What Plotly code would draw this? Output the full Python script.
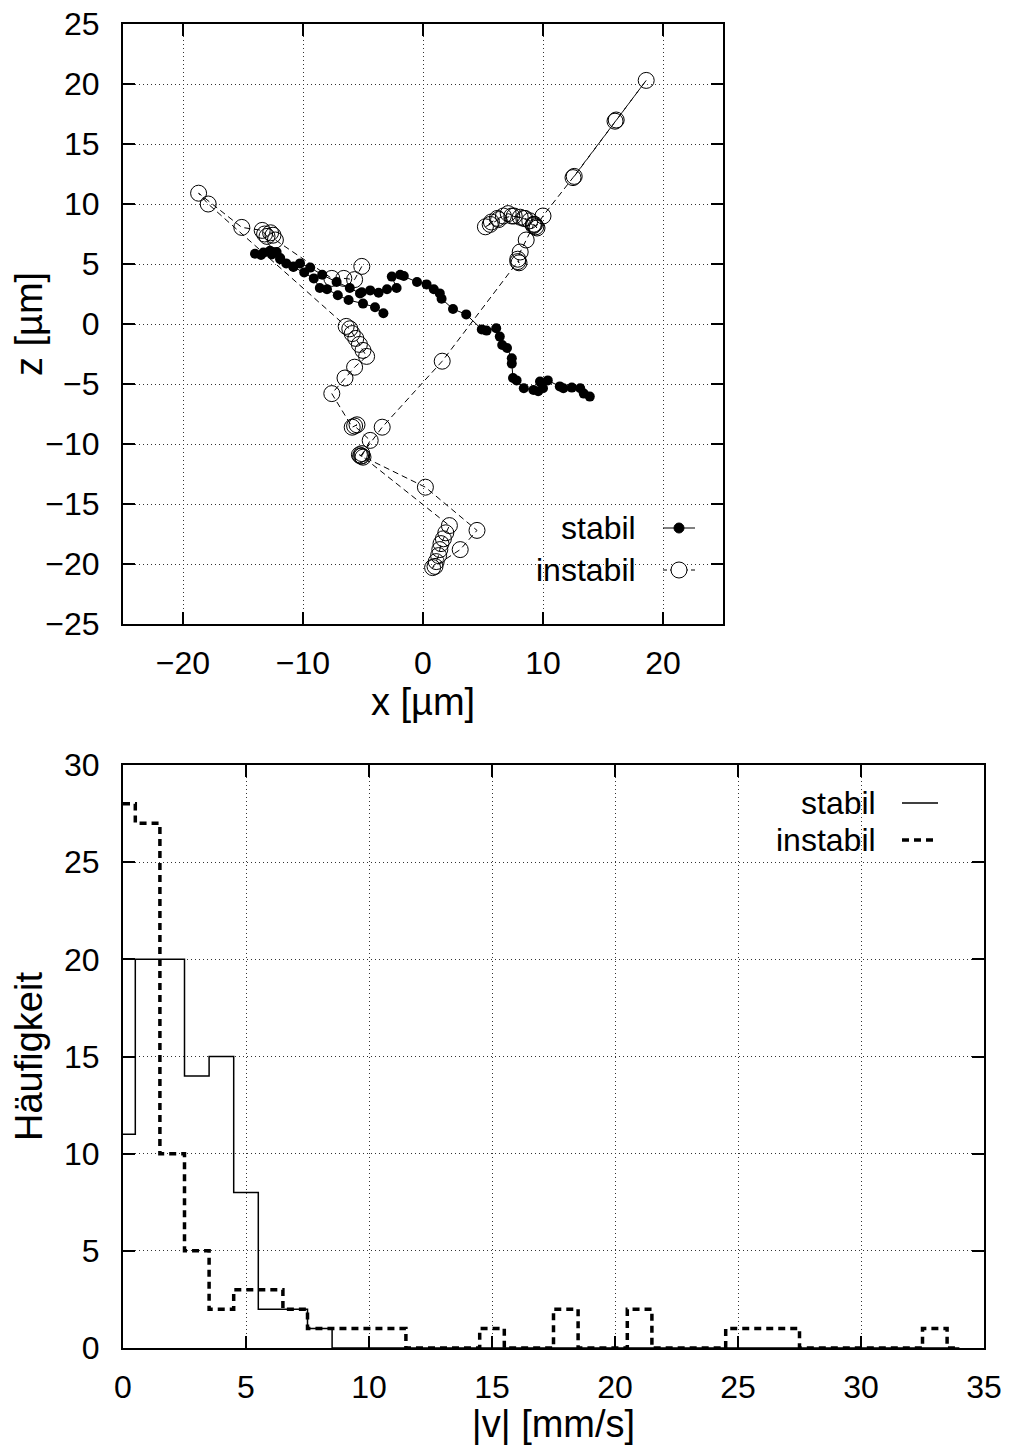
import plotly.graph_objects as go

# Trajektorie "stabil" (x, z in µm)
stabil_x = [13.9, 13.4, 13.1, 12.4, 11.7, 11.4, 10.4, 10.0, 9.75, 9.6, 9.2, 8.4, 7.8, 7.5, 7.4, 7.4,
            7.0, 6.6, 6.4, 6.1, 5.3, 4.9, 3.6, 2.5, 1.55, 1.4, 0.9, 0.3, -0.5, -1.6, -1.9, -2.6,
            -2.2, -3.0, -3.7, -4.4, -5.1, -5.25, -6.1, -7.2, -8.4, -9.4, -10.25, -10.8, -11.4, -11.9,
            -12.2, -12.75, -13.3, -14.0, -13.5, -12.6, -11.9, -10.8, -9.9, -9.1, -8.6, -8.0, -7.1,
            -6.2, -5.0, -4.0, -3.3]
stabil_z = [-6.05, -5.8, -5.35, -5.3, -5.35, -5.2, -4.7, -5.35, -4.8, -5.6, -5.5, -5.35, -4.7, -4.5,
            -3.3, -2.85, -2.0, -1.75, -1.05, -0.35, -0.55, -0.45, 0.8, 1.25, 2.1, 2.55, 2.9, 3.3,
            3.5, 4.0, 4.1, 3.95, 3.0, 2.9, 2.6, 2.8, 2.65, 2.55, 3.0, 3.5, 4.1, 4.7, 5.05, 4.8,
            5.05, 5.5, 6.0, 6.1, 5.95, 5.85, 5.75, 5.8, 5.4, 4.75, 4.3, 3.8, 3.0, 2.9, 2.4, 2.0,
            1.7, 1.4, 0.9]

# Trajektorie "instabil"
instabil_x = [12.6, 16.1, 18.6, 16.0, 12.5, 10.0, 9.4, 9.3, 9.5, 9.2, 8.9, 8.5, 8.1, 7.6, 7.1, 6.7,
              6.2, 5.7, 5.2, 5.6, 6.3, 7.4, 8.4, 9.2, 8.6, 8.1, 7.9, 8.0, 7.9, 1.6, -3.4, -5.1,
              -5.2, -5.0, -5.3, 0.2, 4.5, 3.1, 1.0, 0.8, 1.1, 1.3, 1.4, 1.5, 1.7, 1.9, 2.2, -5.1,
              -4.4, -5.7, -5.5, -5.9, -7.6, -6.5, -5.7, -4.7, -5.0, -5.3, -5.6, -5.9, -6.1, -6.4,
              -17.9, -18.7, -15.1, -13.4, -13.2, -13.0, -12.7, -12.5, -12.3, -7.6, -6.6, -5.7, -5.1]
instabil_z = [12.3, 17.0, 20.3, 16.9, 12.2, 9.0, 8.1, 8.3, 8.0, 8.3, 8.6, 8.8, 8.9, 9.0, 9.2, 9.0,
              8.8, 8.5, 8.1, 8.3, 8.7, 9.0, 8.8, 8.2, 7.0, 6.0, 5.4, 5.1, 5.2, -3.1, -8.6, -10.8,
              -11.0, -11.1, -10.9, -13.6, -17.2, -18.8, -20.2, -20.3, -19.8, -19.3, -18.8, -18.3,
              -17.9, -17.4, -16.8, -11.0, -9.7, -8.5, -8.4, -8.6, -5.8, -4.5, -3.6, -2.7, -2.2,
              -1.7, -1.2, -0.8, -0.4, -0.2, 10.0, 10.9, 8.05, 7.8, 7.5, 7.3, 7.6, 7.4, 7.0, 3.8,
              3.8, 3.7, 4.8]

# Histogramm der Geschwindigkeiten |v| [mm/s]
v_bins = list(range(0, 35))
h_stabil = [11, 20, 20, 14, 15, 8, 2, 2, 1] + [0] * 26
h_instabil = [28, 27, 10, 5, 2, 3, 3, 2, 1, 1, 1, 1, 0, 0, 0, 1, 0, 0, 2, 0, 0, 2, 0, 0, 0,
              1, 1, 1, 0, 0, 0, 0, 0, 1, 0]

# Seite hat 8px Rand, daher Figur etwas kleiner
OFF = 8
W, H = 1013 - OFF, 1445 - OFF
FONT = "Liberation Sans, Arial, sans-serif"
FS = 32


def px(x):
    return (x - OFF) / W


def py(y):
    return 1 - (y - OFF) / H


fig = go.Figure()

fig.add_trace(go.Scatter(x=stabil_x, y=stabil_z, mode="lines+markers",
                         line=dict(color="black", width=1),
                         marker=dict(symbol="circle", size=10, color="black"),
                         xaxis="x", yaxis="y", showlegend=False))
fig.add_trace(go.Scatter(x=instabil_x, y=instabil_z, mode="lines+markers",
                         line=dict(color="black", width=1, dash="6px,4px"),
                         marker=dict(symbol="circle-open", size=16, color="black",
                                     line=dict(width=1)),
                         xaxis="x", yaxis="y", showlegend=False))

fig.add_trace(go.Scatter(x=v_bins, y=h_stabil, mode="lines", line_shape="hvh",
                         line=dict(color="black", width=1.5),
                         xaxis="x2", yaxis="y2", showlegend=False))
fig.add_trace(go.Scatter(x=v_bins, y=h_instabil, mode="lines", line_shape="hvh",
                         line=dict(color="black", width=3.5, dash="7px,5px"),
                         xaxis="x2", yaxis="y2", showlegend=False))

axis_common = dict(showline=True, linecolor="black", linewidth=2, mirror="allticks",
                   ticks="inside", ticklen=12, tickwidth=2, tickcolor="black",
                   showgrid=True, gridcolor="#333333", gridwidth=1, griddash="1px,3px",
                   zeroline=False, automargin=False, ticklabeloverflow="allow",
                   tickfont=dict(family=FONT, size=FS, color="black"))

fig.update_layout(
    width=W, height=H,
    margin=dict(l=0, r=0, t=0, b=0),
    paper_bgcolor="white", plot_bgcolor="white",
    font=dict(family=FONT, size=FS, color="black"),
    xaxis=dict(axis_common, domain=[px(123), px(723)], range=[-25, 25], dtick=10,
               anchor="y", ticklabelstandoff=10, title=dict(text="x [µm]", standoff=6)),
    yaxis=dict(axis_common, domain=[py(624), py(24)], range=[-25, 25], dtick=5,
               anchor="x", ticklabelstandoff=15, title=dict(text="z [µm]", standoff=10)),
    xaxis2=dict(axis_common, domain=[px(123), px(984)], range=[0, 35], dtick=5,
                anchor="y2", ticklabelstandoff=10, title=dict(text="|v| [mm/s]", standoff=6)),
    yaxis2=dict(axis_common, domain=[py(1348), py(765)], range=[0, 30], dtick=5,
                anchor="x2", ticklabelstandoff=15, title=dict(text="Häufigkeit", standoff=10)),
)

# Legenden im gnuplot-Stil (Text links, Symbol rechts)
legend_rows = [
    ("stabil", 638, 528, 663, 695, "solid", 1, "filled"),
    ("instabil", 638, 570, 663, 695, "4px,3px", 1, "open"),
    ("stabil", 878, 803, 902, 938, "solid", 1.5, None),
    ("instabil", 878, 840, 902, 938, "7px,5px", 3.5, None),
]
for text, tx, ty, lx0, lx1, dash, lw, mk in legend_rows:
    fig.add_annotation(x=px(tx), y=py(ty), xref="paper", yref="paper", text=text,
                       showarrow=False, xanchor="right", yanchor="middle",
                       font=dict(family=FONT, size=FS, color="black"))
    fig.add_shape(type="line", xref="paper", yref="paper", x0=px(lx0), x1=px(lx1),
                  y0=py(ty), y1=py(ty), line=dict(color="black", width=lw, dash=dash))
    if mk is not None:
        r = 5 if mk == "filled" else 8
        fig.add_shape(type="circle", xref="paper", yref="paper",
                      xsizemode="pixel", ysizemode="pixel",
                      xanchor=px((lx0 + lx1) / 2), yanchor=py(ty),
                      x0=-r, x1=r, y0=-r, y1=r,
                      line=dict(color="black", width=1),
                      fillcolor="black" if mk == "filled" else "white")

fig.write_html("out.html")
